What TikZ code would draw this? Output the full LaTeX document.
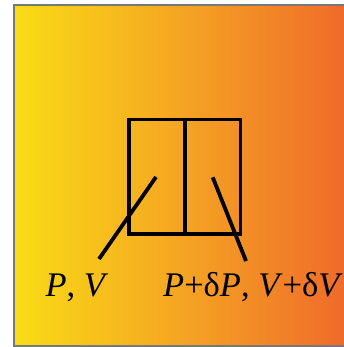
\documentclass[tikz,border=0pt]{standalone}
\usepackage{fontspec}
\setmainfont{Liberation Serif}
\definecolor{bgleft}{RGB}{250,220,22}
\definecolor{bgmid}{RGB}{245,165,35}
\definecolor{bgright}{RGB}{239,106,42}
\definecolor{framegray}{RGB}{120,120,120}
\begin{document}
\begin{tikzpicture}[x=1pt,y=-1pt,
  box/.style={line width=3.6pt,draw=black},
  pointer/.style={line width=3.8pt,draw=black},
  lab/.style={inner sep=0pt,anchor=base,font=\fontsize{34.5}{40}\selectfont}]
\useasboundingbox (0,0) rectangle (343,347);
\shade[left color=bgleft,right color=bgright,middle color=bgmid] (14,5) rectangle (346,346);
\draw[framegray,line width=1.3pt] (346,5) -- (14,5) -- (14,346) -- (346,346);
\draw[box] (129,119.5) rectangle (240.5,234);
\draw[box] (185,119.5) -- (185,234);
\coordinate (inL) at (156,177);
\coordinate (inR) at (212.7,177.3);
\coordinate (endL) at (99,259);
\coordinate (endR) at (246,261);
\node[lab] (pv) at (77,296) {\textit{P}, \textit{V}};
\node[lab] (dpv) at (253,296) {\textit{P}+δ\textit{P}, \textit{V}+δ\textit{V}};
\draw[pointer] (endL) -- (inL);
\draw[pointer] (endR) -- (inR);
\end{tikzpicture}
\end{document}
